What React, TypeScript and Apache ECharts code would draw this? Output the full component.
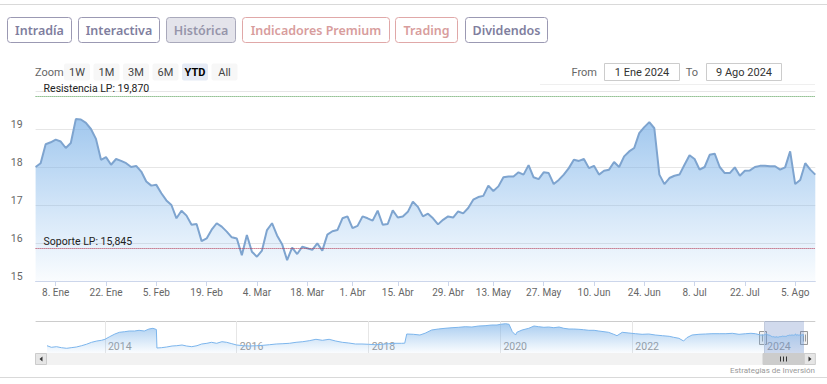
import React, { useEffect, useRef } from 'react';
import * as echarts from 'echarts';

// ---------- DATA ----------
const startDate = '2024-01-02';
const endDate = '2024-08-09';
const marketHolidays = ['2024-01-01', '2024-03-29', '2024-04-01', '2024-05-01'];

// daily close, one value per trading day (2 Jan 2024 .. 9 Aug 2024)
const dailyClose = [
  18.00, 18.10, 18.60, 18.65, 18.72, 18.67, 18.50, 18.63, 19.26, 19.25,
  19.16, 19.00, 18.74, 18.19, 18.26, 18.06, 18.21, 18.16, 18.10, 18.00,
  18.03, 17.88, 17.62, 17.51, 17.53, 17.31, 17.12, 17.00, 16.65, 16.85,
  16.72, 16.48, 16.50, 16.05, 16.12, 16.35, 16.52, 16.43, 16.30, 16.15,
  16.12, 15.68, 16.21, 15.77, 15.64, 15.80, 16.34, 16.52, 16.20, 15.97,
  15.55, 15.88, 15.71, 15.90, 15.86, 15.82, 15.99, 15.80, 16.22, 16.31,
  16.34, 16.65, 16.70, 16.39, 16.45, 16.70, 16.65, 16.59, 16.85, 16.48,
  16.50, 16.86, 16.67, 16.70, 16.82, 17.09, 16.95, 16.70, 16.77, 16.65,
  16.49, 16.61, 16.70, 16.67, 16.83, 16.78, 16.92, 17.14, 17.21, 17.24,
  17.51, 17.37, 17.49, 17.73, 17.75, 17.75, 17.86, 17.80, 18.05, 17.73,
  17.68, 17.86, 17.84, 17.55, 17.66, 17.80, 17.97, 18.19, 18.16, 18.21,
  17.97, 18.03, 17.80, 17.90, 17.93, 18.13, 18.00, 18.28, 18.41, 18.50,
  18.89, 19.05, 19.18, 19.02, 17.80, 17.55, 17.71, 17.77, 17.80, 18.06,
  18.31, 18.21, 17.93, 18.00, 18.32, 18.35, 18.00, 17.84, 17.84, 17.99,
  17.77, 17.90, 17.91, 18.00, 18.03, 18.03, 18.02, 18.02, 17.93, 17.99,
  18.41, 17.55, 17.66, 18.10, 17.93, 17.80,
];

const xTickMondays = [
  '2024-01-08', '2024-01-22', '2024-02-05', '2024-02-19', '2024-03-04', '2024-03-18',
  '2024-04-01', '2024-04-15', '2024-04-29', '2024-05-13', '2024-05-27', '2024-06-10',
  '2024-06-24', '2024-07-08', '2024-07-22', '2024-08-05',
];
const xTickLabels = [
  '8. Ene', '22. Ene', '5. Feb', '19. Feb', '4. Mar', '18. Mar', '1. Abr', '15. Abr',
  '29. Abr', '13. May', '27. May', '10. Jun', '24. Jun', '8. Jul', '22. Jul', '5. Ago',
];

const yMin = 15;
const yMax = 20;
const yStep = 1;

const resistanceValue = 19.87;
const resistanceLabel = 'Resistencia LP: 19,870';
const supportValue = 15.845;
const supportLabel = 'Soporte LP: 15,845';

// navigator history (before 2024), approximate
const navHistoryDates = [
  '2013-02-14', '2013-03-10', '2013-04-08', '2013-05-05', '2013-06-03', '2013-06-28',
  '2013-07-27', '2013-08-25', '2013-09-20', '2013-10-19', '2013-11-17', '2013-12-13',
  '2014-01-01', '2014-01-27', '2014-02-25', '2014-03-22', '2014-04-20', '2014-05-16',
  '2014-06-14', '2014-07-09', '2014-08-07', '2014-09-02', '2014-09-24', '2014-10-13',
  '2014-10-16', '2014-11-10', '2014-12-09', '2015-01-08', '2015-02-03', '2015-03-04',
  '2015-03-29', '2015-04-27', '2015-05-26', '2015-06-21', '2015-07-20', '2015-08-14',
  '2015-09-12', '2015-10-11', '2015-11-06', '2015-12-05', '2016-01-01', '2016-02-06',
  '2016-03-13', '2016-04-19', '2016-05-26', '2016-07-01', '2016-08-07', '2016-09-13',
  '2016-10-19', '2016-11-25', '2017-01-01', '2017-02-06', '2017-03-15', '2017-04-20',
  '2017-05-27', '2017-07-02', '2017-08-08', '2017-09-13', '2017-10-20', '2017-11-25',
  '2018-01-01', '2018-02-06', '2018-03-15', '2018-04-20', '2018-05-27', '2018-07-02',
  '2018-07-20', '2018-07-31', '2018-09-06', '2018-10-12', '2018-11-10', '2018-12-16',
  '2019-01-22', '2019-02-28', '2019-04-08', '2019-05-15', '2019-06-20', '2019-07-27',
  '2019-09-02', '2019-10-08', '2019-11-14', '2019-12-13', '2020-01-01', '2020-01-30',
  '2020-02-18', '2020-03-07', '2020-03-25', '2020-04-01', '2020-04-30', '2020-06-06',
  '2020-07-05', '2020-07-31', '2020-08-29', '2020-09-24', '2020-10-23', '2020-11-21',
  '2020-12-17', '2021-01-15', '2021-02-10', '2021-03-11', '2021-04-06', '2021-05-05',
  '2021-06-03', '2021-06-29', '2021-07-28', '2021-08-22', '2021-09-20', '2021-10-08',
  '2021-11-06', '2021-12-13', '2022-01-19', '2022-02-24', '2022-04-02', '2022-05-08',
  '2022-06-17', '2022-07-24', '2022-08-18', '2022-09-16', '2022-10-12', '2022-10-30',
  '2022-11-28', '2023-01-05', '2023-02-10', '2023-03-18', '2023-04-27', '2023-06-03',
  '2023-07-09', '2023-08-15', '2023-09-21', '2023-10-20', '2023-11-14', '2023-12-13',
];
const navHistoryValues = [
  7.3, 5.7, 6.3, 5.3, 4.7, 5.3,
  6.0, 7.3, 8.7, 10.7, 12.0, 12.7,
  13.7, 16.3, 19.0, 20.7, 21.3, 22.0,
  22.0, 22.7, 22.0, 24.0, 24.7, 23.5,
  5.0, 5.3, 6.0, 7.0, 7.3, 8.0,
  7.0, 6.3, 7.3, 9.0, 9.7, 10.7,
  9.7, 11.3, 10.7, 9.3, 8.0, 7.3,
  7.0, 7.3, 7.7, 8.3, 9.0, 9.3,
  9.7, 10.7, 11.3, 12.3, 13.7, 12.7,
  13.7, 12.0, 10.7, 10.0, 9.0, 9.0,
  8.7, 8.3, 8.7, 9.3, 9.7, 9.7,
  9.8, 19.0, 18.7, 18.0, 19.8, 23.0,
  24.0, 24.7, 25.3, 25.7, 26.3, 26.0,
  27.0, 27.3, 28.0, 28.0, 28.7, 29.3,
  28.7, 21.3, 18.0, 20.7, 23.0, 24.7,
  27.0, 26.3, 25.7, 26.0, 25.3, 26.0,
  24.7, 24.0, 24.0, 23.7, 23.3, 22.7,
  22.7, 22.0, 21.3, 20.7, 18.7, 17.3,
  20.7, 20.0, 19.3, 18.7, 19.0, 18.0,
  17.3, 16.7, 15.7, 14.7, 12.0, 15.3,
  18.0, 18.7, 19.0, 19.3, 19.3, 19.3,
  19.7, 18.7, 19.3, 19.7, 19.3, 18.0,
];
const navYearTicks = ['2014-01-01', '2016-01-01', '2018-01-01', '2020-01-01', '2022-01-01', '2024-01-01'];
const selectionFrom = '2024-01-01';
const selectionTo = '2024-08-09';

const tabButtons = ['Intradía', 'Interactiva', 'Histórica', 'Indicadores Premium', 'Trading', 'Dividendos'];
const zoomButtons = ['1W', '1M', '3M', '6M', 'YTD', 'All'];
const fromText = '1 Ene 2024';
const toText = '9 Ago 2024';
const creditText = 'Estrategias de Inversión';

// ---------- HELPERS ----------
function buildTradingDays(start: string, end: string, holidays: string[]) {
  const out: string[] = [];
  const d = new Date(start + 'T00:00:00Z');
  const e = new Date(end + 'T00:00:00Z');
  while (d.getTime() <= e.getTime()) {
    const wd = d.getUTCDay();
    const s = d.toISOString().slice(0, 10);
    if (wd !== 0 && wd !== 6 && holidays.indexOf(s) < 0) out.push(s);
    d.setUTCDate(d.getUTCDate() + 1);
  }
  return out;
}
const ts = (d: string) => Date.parse(d + 'T00:00:00Z');

const FONT = 'Roboto, "Liberation Sans", Arial, sans-serif';
const BTN_FONT = '"Noto Sans", "Open Sans", sans-serif';

export default function App() {
  const ref = useRef<HTMLDivElement>(null);

  useEffect(() => {
    if (!ref.current) return;
    const chart = echarts.init(ref.current, undefined, { renderer: 'svg' });

    const tradingDays = buildTradingDays(startDate, endDate, marketHolidays);
    const tickMap: Record<string, string> = {};
    xTickMondays.forEach((m, i) => {
      const td = tradingDays.find((d) => d >= m);
      if (td) tickMap[td] = xTickLabels[i];
    });
    const isTick = (_i: number, v: string) => tickMap[v] !== undefined;

    const navData: [number, number][] = navHistoryDates.map((d, i) => [ts(d), navHistoryValues[i]] as [number, number]);
    tradingDays.forEach((d, i) => navData.push([ts(d), dailyClose[i]]));
    const yearTickValues = navYearTicks.map(ts);

    // top UI graphics
    const tabPos = [
      [7, 64], [78, 81], [166, 69], [242, 147], [395, 62], [465, 82],
    ];
    const tabStyles = [
      { stroke: '#9b99b3', fill: '#ffffff', text: '#807e9e' },
      { stroke: '#9b99b3', fill: '#ffffff', text: '#807e9e' },
      { stroke: '#a9a9bb', fill: '#e4e4eb', text: '#9695aa' },
      { stroke: '#e0a8a8', fill: '#ffffff', text: '#d89d9d' },
      { stroke: '#e0a8a8', fill: '#ffffff', text: '#d89d9d' },
      { stroke: '#9b99b3', fill: '#ffffff', text: '#807e9e' },
    ];
    const graphics: any[] = [];
    graphics.push({ type: 'line', shape: { x1: 0, y1: 4.5, x2: 827, y2: 4.5 }, style: { stroke: '#d9d9d9', lineWidth: 1 } });
    tabButtons.forEach((t, i) => {
      const [x, w] = tabPos[i];
      const st = tabStyles[i];
      graphics.push({ type: 'rect', shape: { x: x + 0.5, y: 17.5, width: w, height: 25, r: 3 }, style: { fill: st.fill, stroke: st.stroke, lineWidth: 1 } });
      graphics.push({ type: 'text', style: { text: t, x: x + w / 2 + 0.5, y: 30, textAlign: 'center', textVerticalAlign: 'middle', fill: st.text, font: `600 12.5px ${BTN_FONT}` } });
    });
    graphics.push({ type: 'text', style: { text: 'Zoom', x: 35, y: 72, textAlign: 'left', textVerticalAlign: 'middle', fill: '#666666', font: `11px ${FONT}` } });
    zoomButtons.forEach((t, i) => {
      const cx = 77 + i * 29.5;
      const sel = t === 'YTD';
      graphics.push({ type: 'rect', shape: { x: cx - 13, y: 63.5, width: 26, height: 17, r: 2 }, style: { fill: sel ? '#e6ebf5' : '#f7f7f7', stroke: 'none' } });
      graphics.push({ type: 'text', style: { text: t, x: cx, y: 72, textAlign: 'center', textVerticalAlign: 'middle', fill: sel ? '#000000' : '#444444', font: `${sel ? 'bold ' : ''}11px ${FONT}` } });
    });
    graphics.push({ type: 'text', style: { text: 'From', x: 597, y: 72, textAlign: 'right', textVerticalAlign: 'middle', fill: '#666666', font: `11px ${FONT}` } });
    graphics.push({ type: 'rect', shape: { x: 604.5, y: 63.5, width: 75, height: 17 }, style: { fill: '#ffffff', stroke: '#cccccc', lineWidth: 1 } });
    graphics.push({ type: 'text', style: { text: fromText, x: 642, y: 72, textAlign: 'center', textVerticalAlign: 'middle', fill: '#333333', font: `11px ${FONT}` } });
    graphics.push({ type: 'text', style: { text: 'To', x: 698, y: 72, textAlign: 'right', textVerticalAlign: 'middle', fill: '#666666', font: `11px ${FONT}` } });
    graphics.push({ type: 'rect', shape: { x: 706.5, y: 63.5, width: 75, height: 17 }, style: { fill: '#ffffff', stroke: '#cccccc', lineWidth: 1 } });
    graphics.push({ type: 'text', style: { text: toText, x: 744, y: 72, textAlign: 'center', textVerticalAlign: 'middle', fill: '#333333', font: `11px ${FONT}` } });
    graphics.push({ type: 'line', shape: { x1: 540, y1: 84.5, x2: 815, y2: 84.5 }, style: { stroke: '#efefef', lineWidth: 1 } });

    // navigator chrome
    graphics.push({ type: 'line', shape: { x1: 35.6, y1: 321.5, x2: 815.3, y2: 321.5 }, style: { stroke: '#cccccc', lineWidth: 1 } });
    graphics.push({ type: 'rect', shape: { x: 35.5, y: 353.5, width: 779.8, height: 11 }, style: { fill: '#f2f2f2', stroke: '#f2f2f2' } });
    graphics.push({ type: 'rect', shape: { x: 35.5, y: 353.5, width: 11, height: 11 }, style: { fill: '#e6e6e6', stroke: '#cccccc', lineWidth: 1 } });
    graphics.push({ type: 'polygon', shape: { points: [[42.5, 356.5], [39.5, 359], [42.5, 361.5]] }, style: { fill: '#333333' } });
    graphics.push({ type: 'rect', shape: { x: 763, y: 353.5, width: 41, height: 11 }, style: { fill: '#cccccc', stroke: '#cccccc', lineWidth: 1 } });
    [780.5, 783.5, 786.5].forEach((lx) => {
      graphics.push({ type: 'line', shape: { x1: lx, y1: 356.5, x2: lx, y2: 361.5 }, style: { stroke: '#333333', lineWidth: 1 } });
    });
    graphics.push({ type: 'rect', shape: { x: 804.3, y: 353.5, width: 11, height: 11 }, style: { fill: '#e6e6e6', stroke: '#cccccc', lineWidth: 1 } });
    graphics.push({ type: 'polygon', shape: { points: [[808.5, 356.5], [811.5, 359], [808.5, 361.5]] }, style: { fill: '#333333' } });
    [763, 804].forEach((hx) => {
      graphics.push({ type: 'rect', shape: { x: hx - 3.5, y: 331.5, width: 7, height: 13 }, style: { fill: '#f2f2f2', stroke: '#999999', lineWidth: 1 } });
      graphics.push({ type: 'line', shape: { x1: hx - 0.5, y1: 334.5, x2: hx - 0.5, y2: 341.5 }, style: { stroke: '#999999', lineWidth: 1 } });
      graphics.push({ type: 'line', shape: { x1: hx + 1.5, y1: 334.5, x2: hx + 1.5, y2: 341.5 }, style: { stroke: '#999999', lineWidth: 1 } });
    });
    graphics.push({ type: 'text', style: { text: creditText, x: 815, y: 370, textAlign: 'right', textVerticalAlign: 'middle', fill: '#999999', font: `8px ${FONT}` } });
    graphics.push({ type: 'line', shape: { x1: 0, y1: 377.5, x2: 827, y2: 377.5 }, style: { stroke: '#d9d9d9', lineWidth: 1 } });

    const option: any = {
      animation: false,
      backgroundColor: '#ffffff',
      textStyle: { fontFamily: FONT },
      grid: [
        { left: 35.6, right: 11.7, top: 91, height: 190, containLabel: false },
        { left: 47, right: 23, top: 321, height: 32, containLabel: false },
      ],
      xAxis: [
        {
          type: 'category',
          gridIndex: 0,
          data: tradingDays,
          boundaryGap: false,
          axisLine: { show: true, lineStyle: { color: '#ccd6eb' } },
          axisTick: { show: true, interval: isTick, length: 5, lineStyle: { color: '#ccd6eb' } },
          axisLabel: {
            interval: isTick,
            formatter: (v: string) => tickMap[v] || '',
            color: '#666666',
            fontSize: 10,
            margin: 6,
            fontFamily: FONT,
          },
          splitLine: { show: false },
        },
        {
          type: 'value',
          gridIndex: 1,
          min: ts(navHistoryDates[0]),
          max: ts(endDate),
          axisLine: { show: false },
          axisTick: {
            show: true,
            customValues: yearTickValues,
            inside: true,
            length: 32,
            lineStyle: { color: '#e6e6e6' },
          },
          axisLabel: {
            show: true,
            customValues: yearTickValues,
            formatter: (v: number) => String(new Date(v).getUTCFullYear()),
            inside: true,
            align: 'left',
            padding: [0, 0, 0, 3],
            margin: 1,
            color: '#999999',
            fontSize: 10.5,
            fontFamily: FONT,
          },
          splitLine: { show: false },
        },
      ],
      yAxis: [
        {
          type: 'value',
          gridIndex: 0,
          min: yMin,
          max: yMax,
          interval: yStep,
          axisLine: { show: false },
          axisTick: { show: false },
          axisLabel: {
            formatter: (v: number) => (v === yMax ? '' : String(v)),
            color: '#666666',
            fontSize: 10.5,
            margin: 13,
            verticalAlign: 'bottom',
            lineHeight: 10,
            fontFamily: FONT,
          },
          splitLine: { show: true, lineStyle: { color: '#e6e6e6' } },
        },
        {
          type: 'value',
          gridIndex: 1,
          min: 0,
          max: 32,
          show: false,
          splitLine: { show: false },
        },
      ],
      series: [
        {
          type: 'line',
          xAxisIndex: 0,
          yAxisIndex: 0,
          data: dailyClose,
          showSymbol: false,
          symbol: 'none',
          lineStyle: { width: 2, color: '#7ea4cf' },
          areaStyle: {
            origin: 'start',
            color: new echarts.graphic.LinearGradient(0, 0, 0, 1, [
              { offset: 0, color: 'rgba(118,174,230,0.98)' },
              { offset: 1, color: 'rgba(124,181,236,0.06)' },
            ]),
          },
          markLine: {
            silent: true,
            symbol: ['none', 'none'],
            animation: false,
            data: [
              {
                yAxis: resistanceValue,
                lineStyle: { color: '#4c9a4c', type: 'dotted', width: 1 },
                label: { show: true, formatter: resistanceLabel, position: 'insideStartTop', distance: [8, 2], color: '#222222', fontSize: 10.5, fontFamily: FONT },
              },
              {
                yAxis: supportValue,
                lineStyle: { color: '#b3354f', type: 'dotted', width: 1 },
                label: { show: true, formatter: supportLabel, position: 'insideStartTop', distance: [8, 2], color: '#222222', fontSize: 10.5, fontFamily: FONT },
              },
            ],
          },
        },
        {
          type: 'line',
          xAxisIndex: 1,
          yAxisIndex: 1,
          data: navData,
          showSymbol: false,
          symbol: 'none',
          lineStyle: { width: 1, color: '#7cb5ec' },
          areaStyle: {
            origin: 'start',
            color: new echarts.graphic.LinearGradient(0, 0, 0, 1, [
              { offset: 0, color: 'rgba(118,174,230,0.9)' },
              { offset: 1, color: 'rgba(124,181,236,0.05)' },
            ]),
          },
          markArea: {
            silent: true,
            itemStyle: { color: 'rgba(102,133,194,0.3)' },
            data: [[{ xAxis: ts(selectionFrom) }, { xAxis: ts(selectionTo) }]],
          },
        },
      ],
      graphic: { elements: graphics },
    };

    chart.setOption(option);
    return () => chart.dispose();
  }, []);

  return (
    <div
      ref={ref}
      style={{ position: 'absolute', left: 0, top: 0, width: 827, height: 384, background: '#ffffff' }}
    />
  );
}
